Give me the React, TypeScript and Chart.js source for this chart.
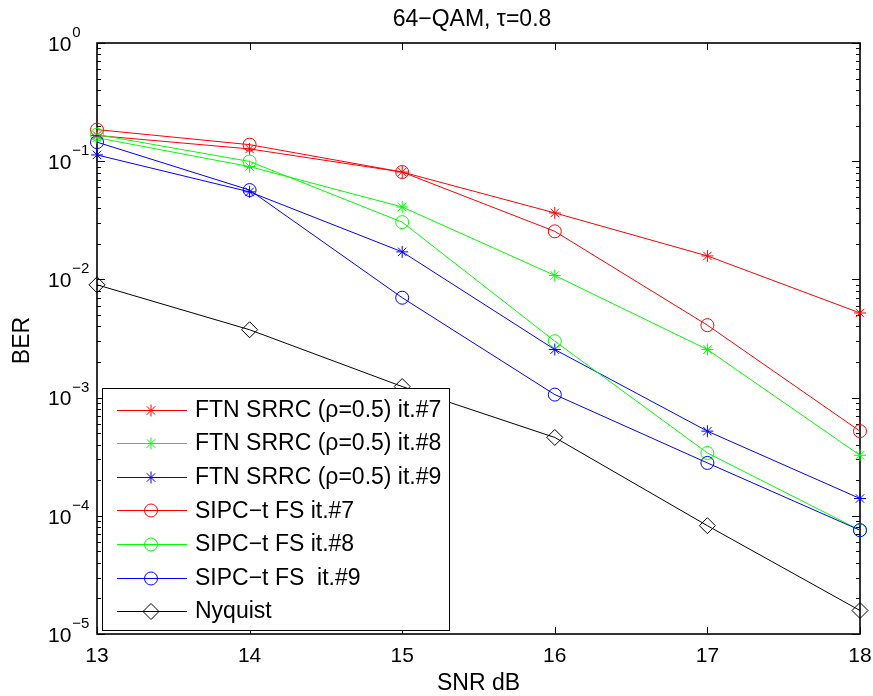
import React, { useEffect, useRef } from 'react';
import { Chart, registerables } from 'chart.js';

Chart.register(...registerables);

// ---- data ----
const snrDb = [13, 14, 15, 16, 17, 18];
const xTickValues = [13, 14, 15, 16, 17, 18];
const yDecadeExponents = [0, -1, -2, -3, -4, -5];

const ftn7 = [0.165, 0.127, 0.081, 0.0365, 0.0158, 0.0052];
const ftn8 = [0.158, 0.09, 0.041, 0.0108, 0.00255, 0.000325];
const ftn9 = [0.113, 0.055, 0.0171, 0.00255, 0.00052, 0.00014];
const sipc7 = [0.185, 0.138, 0.081, 0.0255, 0.0041, 0.00052];
const sipc8 = [0.168, 0.0995, 0.0305, 0.003, 0.00034, 0.0000755];
const sipc9 = [0.145, 0.057, 0.007, 0.00106, 0.00028, 0.0000755];
const nyquist = [0.009, 0.00375, 0.00124, 0.00046, 0.0000825, 0.0000158];

const seriesLabels = [
  'FTN SRRC (ρ=0.5) it.#7',
  'FTN SRRC (ρ=0.5) it.#8',
  'FTN SRRC (ρ=0.5) it.#9',
  'SIPC−t FS it.#7',
  'SIPC−t FS it.#8',
  'SIPC−t FS  it.#9',
  'Nyquist',
];
const seriesValues = [ftn7, ftn8, ftn9, sipc7, sipc8, sipc9, nyquist];
const seriesColors = ['#ff0000', '#00ff00', '#0000ff', '#ff0000', '#00ff00', '#0000ff', '#000000'];
const seriesMarkers = ['star', 'star', 'star', 'circle', 'circle', 'circle', 'rectRot'];

const titleText = '64−QAM, τ=0.8';
const xTitle = 'SNR dB';
const yTitle = 'BER';

const FONT = '"Liberation Sans", Arial, Helvetica, sans-serif';

const markerRadius: Record<string, number> = { star: 6, circle: 6.5, rectRot: 8 };

function drawMarker(ctx: CanvasRenderingContext2D, style: string, x: number, y: number, color: string) {
  const r = markerRadius[style];
  ctx.save();
  ctx.strokeStyle = color;
  ctx.lineWidth = 1;
  ctx.beginPath();
  if (style === 'star') {
    ctx.moveTo(x - r, y); ctx.lineTo(x + r, y);
    ctx.moveTo(x, y - r); ctx.lineTo(x, y + r);
    const d = r * Math.SQRT1_2;
    ctx.moveTo(x - d, y - d); ctx.lineTo(x + d, y + d);
    ctx.moveTo(x - d, y + d); ctx.lineTo(x + d, y - d);
  } else if (style === 'circle') {
    ctx.arc(x, y, r, 0, Math.PI * 2);
  } else {
    ctx.moveTo(x, y - r); ctx.lineTo(x + r, y); ctx.lineTo(x, y + r); ctx.lineTo(x - r, y); ctx.closePath();
  }
  ctx.stroke();
  ctx.restore();
}

const framePlugin = {
  id: 'matlabFrame',
  beforeDatasetsDraw(chart: any) {
    const { ctx, chartArea } = chart;
    const { left, right, top, bottom } = chartArea;
    const xs = chart.scales.x;
    const ys = chart.scales.y;
    ctx.save();
    ctx.fillStyle = '#ffffff';
    ctx.fillRect(left, top, right - left, bottom - top);
    ctx.strokeStyle = '#000000';
    ctx.lineWidth = 1;
    ctx.beginPath();
    // x major ticks
    xTickValues.forEach((v) => {
      const px = Math.round(xs.getPixelForValue(v)) + 0.5;
      ctx.moveTo(px, bottom); ctx.lineTo(px, bottom - 7);
      ctx.moveTo(px, top); ctx.lineTo(px, top + 7);
    });
    // y major and minor ticks
    yDecadeExponents.forEach((e) => {
      const base = Math.pow(10, e);
      const py = Math.round(ys.getPixelForValue(base)) + 0.5;
      ctx.moveTo(left, py); ctx.lineTo(left + 8, py);
      ctx.moveTo(right, py); ctx.lineTo(right - 8, py);
      if (e > -5) {
        for (let m = 2; m <= 9; m++) {
          const my = Math.round(ys.getPixelForValue(m * base / 10)) + 0.5;
          ctx.moveTo(left, my); ctx.lineTo(left + 4, my);
          ctx.moveTo(right, my); ctx.lineTo(right - 4, my);
        }
      }
    });
    ctx.stroke();
    ctx.lineWidth = 1.6;
    ctx.strokeRect(left, top, right - left, bottom - top);
    ctx.restore();
  },
  afterDatasetsDraw(chart: any) {
    const { ctx, chartArea } = chart;
    const { left, right, top, bottom } = chartArea;
    const xs = chart.scales.x;
    const ys = chart.scales.y;
    ctx.save();
    ctx.fillStyle = '#000000';
    // x tick labels
    ctx.font = `21px ${FONT}`;
    ctx.textAlign = 'center';
    ctx.textBaseline = 'middle';
    xTickValues.forEach((v) => {
      ctx.fillText(String(v), xs.getPixelForValue(v), bottom + 22);
    });
    // y tick labels 10^e
    yDecadeExponents.forEach((e) => {
      const py = ys.getPixelForValue(Math.pow(10, e));
      ctx.font = `21px ${FONT}`;
      ctx.textAlign = 'left';
      ctx.textBaseline = 'middle';
      ctx.fillText('10', 48, py + 2);
      const w = ctx.measureText('10').width;
      ctx.font = `15px ${FONT}`;
      ctx.textBaseline = 'alphabetic';
      ctx.fillText(e === 0 ? '0' : '−' + String(-e), 48 + w + 1, py - 6);
    });
    // title and axis titles
    ctx.font = `23px ${FONT}`;
    ctx.textAlign = 'center';
    ctx.textBaseline = 'middle';
    ctx.fillText(titleText, 472, 20);
    ctx.fillText(xTitle, (left + right) / 2, 684);
    ctx.save();
    ctx.translate(23, (top + bottom) / 2 + 2);
    ctx.rotate(-Math.PI / 2);
    ctx.fillText(yTitle, 0, 0);
    ctx.restore();

    // legend
    const bx = 102, by = 388, bw = 347, bh = 242;
    ctx.fillStyle = '#ffffff';
    ctx.fillRect(bx, by, bw, bh);
    ctx.strokeStyle = '#000000';
    ctx.lineWidth = 1;
    ctx.strokeRect(bx + 0.5, by + 0.5, bw, bh);
    ctx.font = `23px ${FONT}`;
    ctx.textAlign = 'left';
    ctx.textBaseline = 'middle';
    seriesLabels.forEach((lab, i) => {
      const ry = 409.5 + i * 33.6;
      ctx.strokeStyle = seriesColors[i];
      ctx.lineWidth = 1;
      ctx.beginPath();
      ctx.moveTo(117, Math.round(ry) + 0.5);
      ctx.lineTo(187, Math.round(ry) + 0.5);
      ctx.stroke();
      drawMarker(ctx, seriesMarkers[i], 151, Math.round(ry) + 0.5, seriesColors[i]);
      ctx.fillStyle = '#000000';
      ctx.fillText(lab, 195, ry + 1);
    });
    ctx.restore();
  },
};

export default function App() {
  const canvasRef = useRef<HTMLCanvasElement | null>(null);

  useEffect(() => {
    document.body.style.margin = '0';
    const canvas = canvasRef.current;
    if (!canvas) return;
    const n = seriesLabels.length;
    const chart = new Chart(canvas, {
      type: 'line',
      data: {
        datasets: seriesLabels.map((label, i) => ({
          label,
          data: snrDb.map((x, j) => ({ x, y: seriesValues[i][j] })),
          borderColor: seriesColors[i],
          backgroundColor: 'transparent',
          borderWidth: 1,
          pointStyle: seriesMarkers[i] as any,
          pointRadius: markerRadius[seriesMarkers[i]],
          pointBorderColor: seriesColors[i],
          pointBackgroundColor: 'transparent',
          pointBorderWidth: 1,
          tension: 0,
          fill: false,
          clip: false as any,
          order: n - i,
        })),
      },
      options: {
        responsive: false,
        animation: false,
        events: [],
        layout: { padding: { left: 97, right: 13, top: 43, bottom: 62 } },
        plugins: {
          legend: { display: false },
          title: { display: false },
          tooltip: { enabled: false },
        },
        scales: {
          x: { type: 'linear', min: 13, max: 18, display: false },
          y: { type: 'logarithmic', min: 1e-5, max: 1, display: false },
        },
      },
      plugins: [framePlugin],
    });
    return () => chart.destroy();
  }, []);

  return (
    <div style={{ width: 873, height: 696, background: '#ffffff' }}>
      <canvas ref={canvasRef} width={873} height={696} style={{ display: 'block', width: 873, height: 696 }} />
    </div>
  );
}
